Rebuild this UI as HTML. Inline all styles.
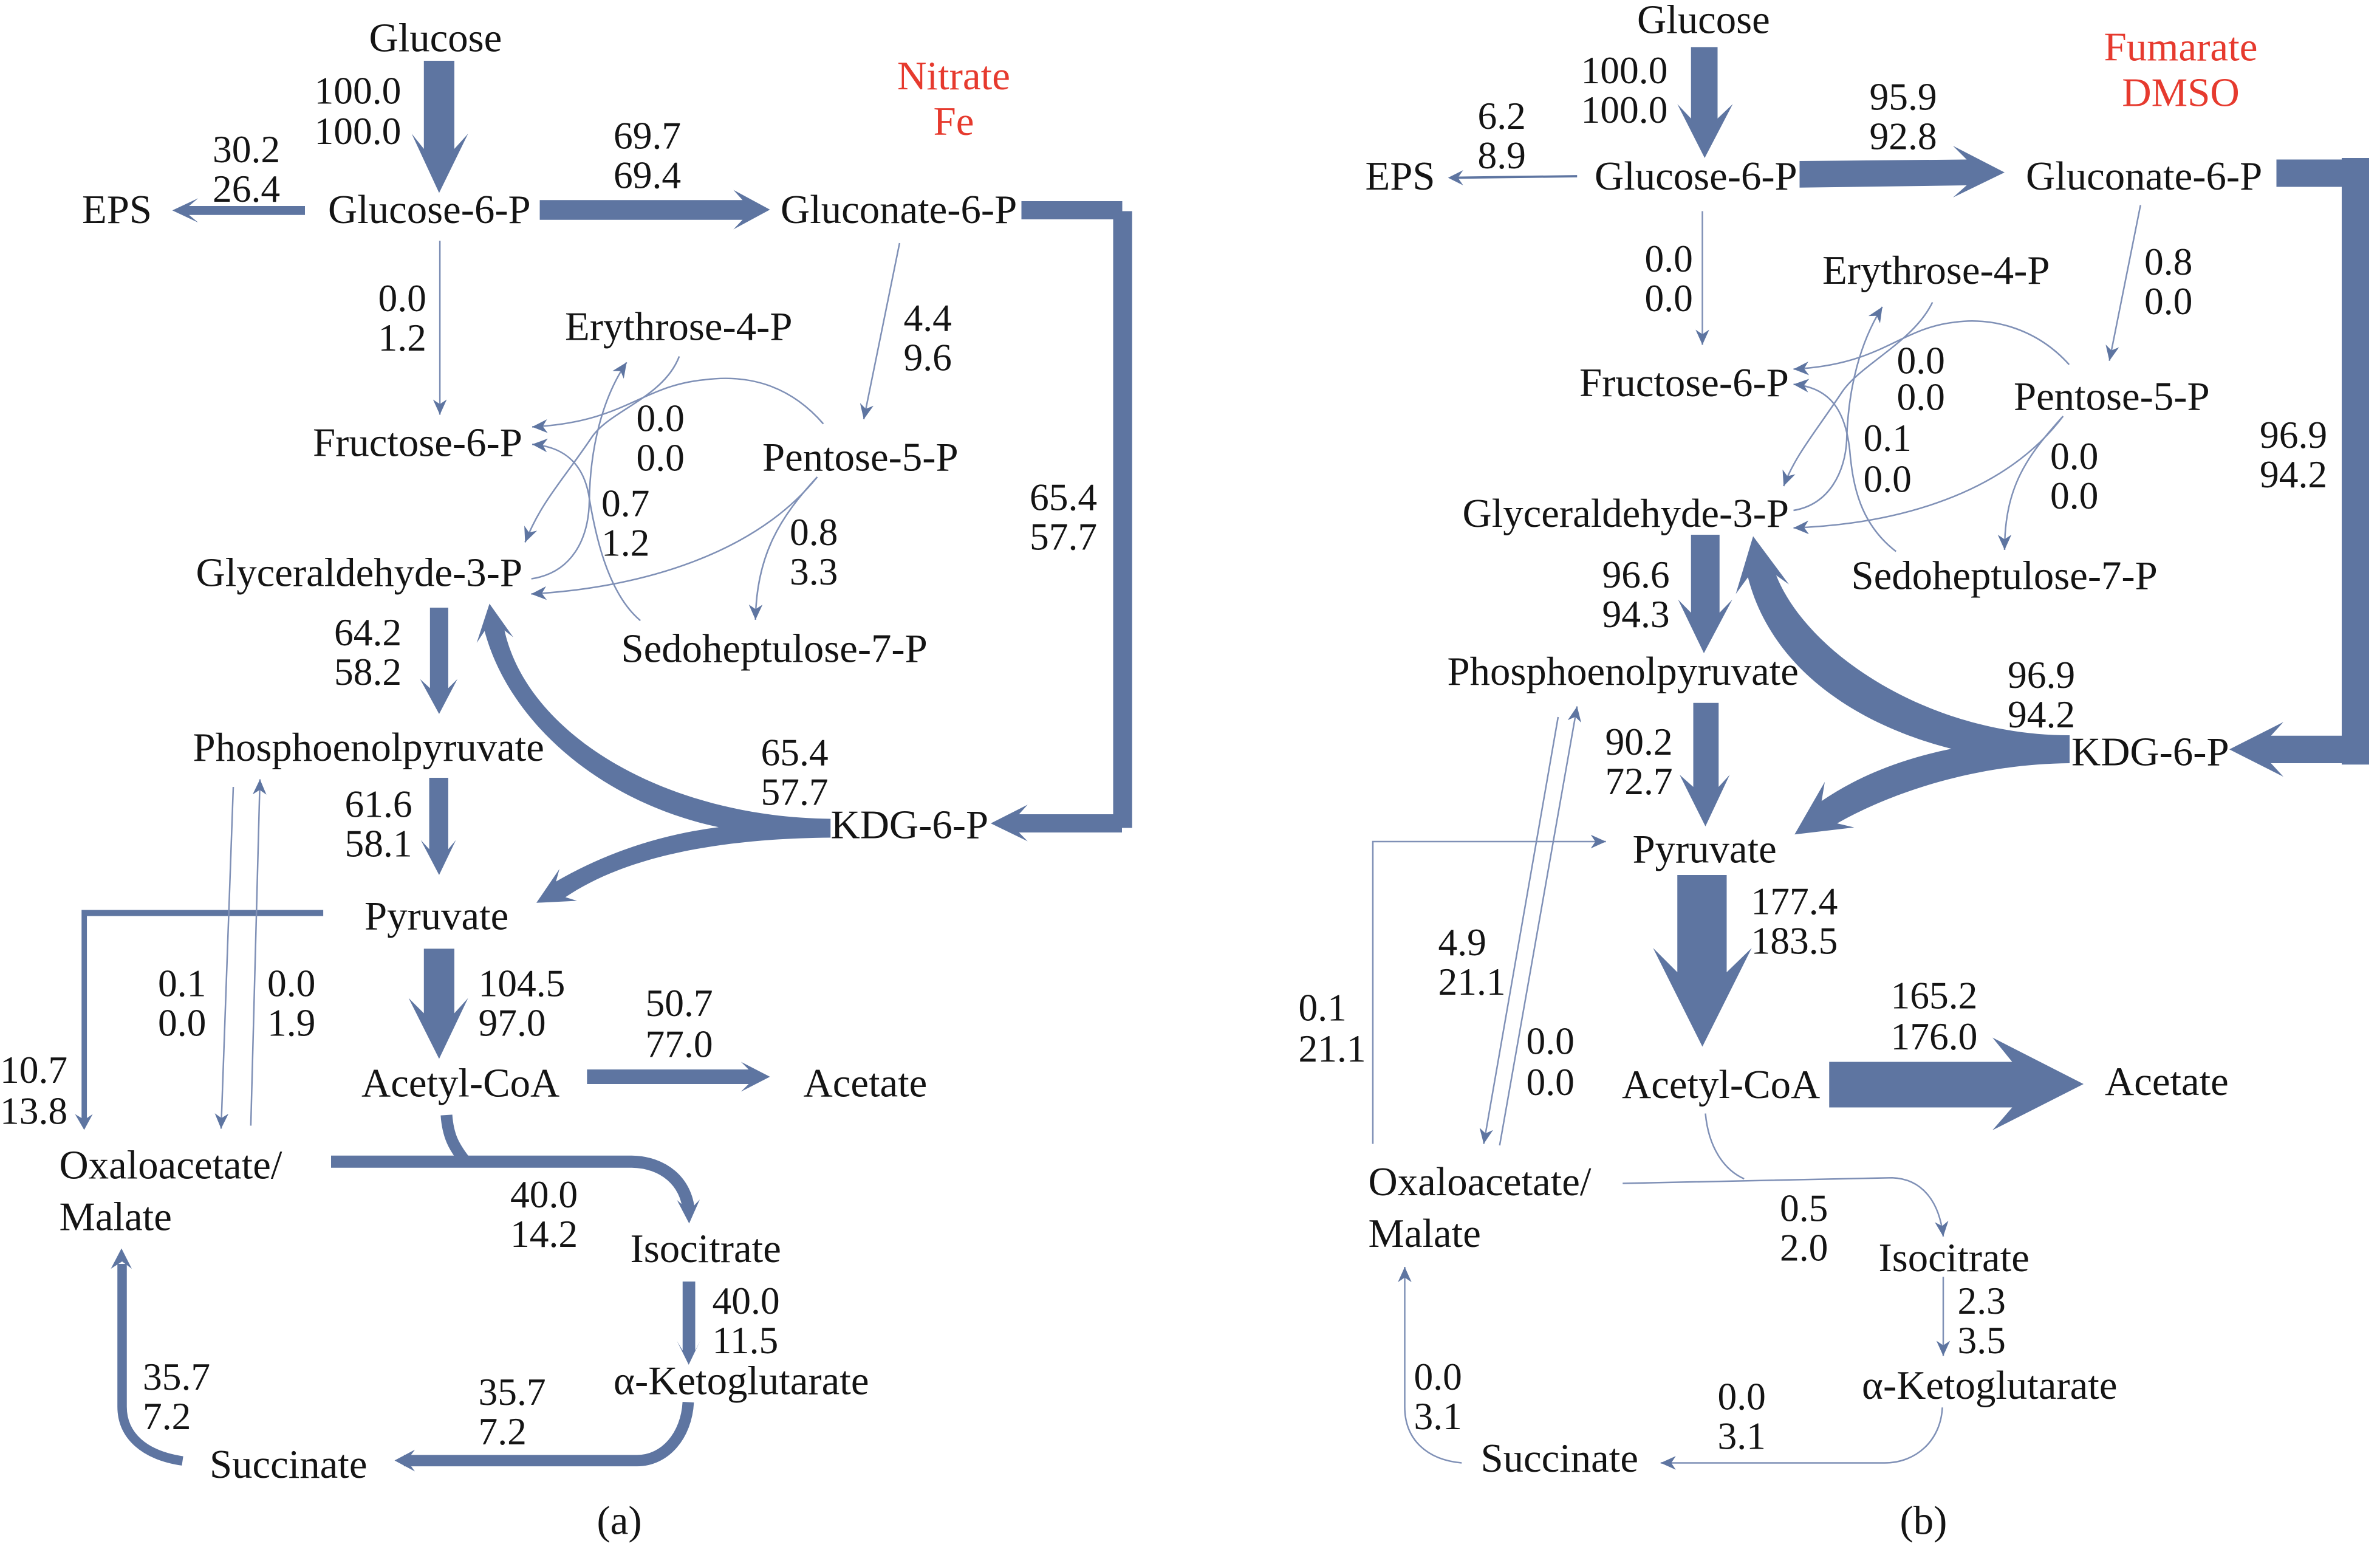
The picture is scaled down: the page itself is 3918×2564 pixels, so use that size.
<!DOCTYPE html>
<html><head><meta charset="utf-8"><title>Metabolic flux maps</title>
<style>
html,body{margin:0;padding:0;background:#fff}
svg{display:block}
text{font-family:"Liberation Serif",serif;font-size:25.4px;fill:#141414}
.w{font-size:26.7px}
.r{fill:#e63a2e;font-size:26.8px}
.m{text-anchor:middle}
.f{fill:#5e75a1;stroke:none}
.s{fill:none;stroke:#5e75a1}
.t{fill:none;stroke:#7f90b6;stroke-width:1;marker-end:url(#h)}
.n{fill:none;stroke:#7f90b6;stroke-width:1}
</style></head><body>
<svg xmlns="http://www.w3.org/2000/svg" width="3918" height="2564" viewBox="0 0 1567.2 1025.6">
<defs><marker id="h" markerUnits="userSpaceOnUse" markerWidth="12" markerHeight="12" refX="10" refY="5" orient="auto"><path d="M0,0.5L10,5L0,9.5L3,5Z" fill="#5e75a1"/></marker></defs>

<!-- panel a arrows -->
<g transform="scale(1.004,1)">
<polygon class="f" points="278,40 298,40 298,98 307,88 288,127 270,88 278,98"/>
<polygon class="f" points="200,135.6 124,135.6 130,130.5 113,138.5 130,146.5 124,141.5 200,141.5"/>
<polygon class="f" points="354,131.7 487,131.7 481,125 505,138 481,151 487,144.7 354,144.7"/>
<polygon class="f" points="282,400 294,400 294,453 300,447 288,470 275.5,447 282,453"/>
<polygon class="f" points="281.5,512 294,512 294,559 299,553 288,576 276,553 281.5,559"/>
<polygon class="f" points="278,624.5 298,624.5 298,667 307,657 288,697 268,657 278,667"/>
<polygon class="f" points="385,704 491,704 486,699 505,708.8 486,718.6 491,713.6 385,713.6"/>
<polygon class="f" points="53.5,599 212,599 212,603 57,603 57,736 60.8,733.4 55.2,743.8 49.2,733.4 53.5,736"/>
<line class="t" x1="288.5" y1="158.5" x2="288.5" y2="273"/>
<line class="t" x1="590" y1="160" x2="566.5" y2="276"/>
<path class="t" d="M445.5,234.6C435,262 400,270 388,288C370,315 355,330 344.4,357"/>
<path class="t" d="M348.5,381C375,377 386,355 386.5,330C387,295 395,262 411,238.5"/>
<path class="t" d="M540,279C515,250 485,247 462,250C420,254 410,278 349,281"/>
<path class="t" d="M420,408.5C398,390 390,350 386,325C382,305 370,294 349,292.5"/>
<path class="t" d="M536,314C495,365 420,387 348.4,391"/>
<path class="t" d="M536,314C512,340 496,365 495.5,408"/>
<line class="t" x1="153" y1="518" x2="145" y2="743"/>
<line class="t" x1="164.5" y1="741" x2="170.5" y2="513"/>
</g>
<polygon class="f" points="672.6,132.4 739,132.4 739,139 745.5,139 745.5,545 738.8,545 738.8,548 671,548 676.7,553.8 652.4,542 676.7,529.7 671,536 733,536 733,144.4 672.6,144.4"/>
<path class="f" d="M546.9,539C440,538 348,485 332.2,415L338,419.5L322.3,397.4L313.9,423.2L319.1,415.4C335,475 395,528 473.2,544.5Q415,552 366.1,580.3L368.4,572L353.2,594.3L380,593L372.3,590.6C410,565 470,552 546.9,551.4Z"/>
<path class="s" stroke-width="7.7" d="M294,734C295,748 299,755 306,764"/>
<path class="s" stroke-width="8" d="M218,764.7H416C437,765 452,778 453.5,797"/>
<polygon class="f" points="453.8,805.4 460.8,789.6 453.8,797 445.8,790"/>
<polygon class="f" points="449.5,843.6 457.8,843.6 457.8,889 461,882.8 453.5,898.4 445.8,882.8 449.5,889"/>
<path class="s" stroke-width="7.5" d="M453.2,923C452,945 438,961.5 419.5,961.5H266"/>
<polygon class="f" points="259.8,961.4 273.2,954.3 268,961.4 273.2,968.6"/>
<path class="s" stroke-width="6.2" d="M120.2,961.7C95,958 80.4,945 80.4,926V832"/>
<polygon class="f" points="80,821.8 86.8,835.2 80.4,830.4 73,835.2"/>

<!-- panel b arrows -->
<polygon class="f" points="1113.5,31 1131,31 1131,78 1141,68.5 1122.5,104 1104.5,68.5 1113.5,78"/>
<line x1="1038.5" y1="116" x2="958" y2="117" stroke="#5e75a1" stroke-width="1.5"/>
<polygon class="f" points="953.5,117 963.5,112 960,117 963.5,122"/>
<polygon class="f" points="1185,106 1295,105 1286,96 1320,113.5 1286,130 1295,122 1185,123.5"/>
<polygon class="f" points="1499,105 1542,105 1542,104 1560,104 1560,503.3 1542,503.3 1542,502.4 1495.4,502.4 1503.6,511.3 1468,493.3 1503.6,475.3 1495.4,484.3 1542,484.3 1542,123 1499,123"/>
<polygon class="f" points="1113.5,352 1132.3,352 1132.3,403.3 1140.7,394.7 1122,430 1105,394.7 1113.5,403.3"/>
<polygon class="f" points="1115,462.7 1131.7,462.7 1131.7,518 1139,510 1123,544 1106,510 1115,518"/>
<polygon class="f" points="1104.5,576 1137,576 1137,640 1153.5,624 1121,689 1088.5,624 1104.5,640"/>
<polygon class="f" points="1204.5,699 1325,699 1312,683 1372,713.6 1312,744 1325,729 1204.5,729"/>
<path class="f" d="M1362.8,484C1270,484 1190,430 1169.6,378.7L1178,384.7L1154.4,353L1143,391L1151,380C1165,435 1215,475 1285,492.9Q1235,503 1199.5,527.3L1201.6,514.7L1181.7,549.3L1221,544.7L1209.7,542C1245,522 1300,503 1362.8,502.4Z"/>
<line class="t" x1="1121" y1="139" x2="1121" y2="227"/>
<line class="t" x1="1409.5" y1="135" x2="1389" y2="237.5"/>
<path class="t" d="M1272.5,199C1260,225 1225,240 1213,258C1195,285 1182,300 1174.5,320"/>
<path class="t" d="M1181,336C1205,332 1215,310 1216,290C1217,255 1225,225 1239.5,202"/>
<path class="t" d="M1362.5,240C1340,215 1310,209 1288,212C1250,216 1240,240 1181,243"/>
<path class="t" d="M1248.5,363C1225,345 1220,320 1218,296C1215,270 1205,255 1181,253"/>
<path class="t" d="M1358.5,274C1320,325 1250,345 1181,347.5"/>
<path class="t" d="M1358.5,274C1335,300 1320,320 1320,362"/>
<path class="t" d="M904,753V554H1057.5"/>
<line class="t" x1="1026" y1="472" x2="977" y2="753"/>
<line class="t" x1="987.5" y1="754" x2="1038.5" y2="465"/>
<path class="n" d="M1123,733C1125,755 1135,770 1148.5,776"/>
<path class="t" d="M1068.5,779L1246,775.3C1265,776 1277,790 1279.6,814"/>
<line class="t" x1="1279.6" y1="840.5" x2="1279.6" y2="892.6"/>
<path class="t" d="M1279,926.5C1278,948 1262,963 1241,963H1093.5"/>
<path class="t" d="M962.5,963C940,961 925,948 925,926V834"/>

<g transform="translate(0,0.7)">
<!-- panel a text -->
<text class="w" x="243" y="33">Glucose</text>
<text x="207" y="67.5">100.0</text><text x="207" y="94">100.0</text>
<text x="140" y="106">30.2</text><text x="140" y="132">26.4</text>
<text class="w" x="54" y="146">EPS</text>
<text class="w" x="216" y="146">Glucose-6-P</text>
<text x="404" y="97">69.7</text><text x="404" y="123">69.4</text>
<text class="w" x="514" y="146">Gluconate-6-P</text>
<text class="r m" x="628" y="58">Nitrate</text><text class="r m" x="628" y="88">Fe</text>
<text x="249" y="204">0.0</text><text x="249" y="230">1.2</text>
<text x="595" y="217">4.4</text><text x="595" y="243">9.6</text>
<text class="w" x="372" y="223">Erythrose-4-P</text>
<text class="w" x="206" y="299.5">Fructose-6-P</text>
<text class="w" x="502" y="309">Pentose-5-P</text>
<text x="419" y="283">0.0</text><text x="419" y="309">0.0</text>
<text x="396" y="339">0.7</text><text x="396" y="365">1.2</text>
<text x="520" y="358">0.8</text><text x="520" y="384">3.3</text>
<text x="678" y="335">65.4</text><text x="678" y="361">57.7</text>
<text class="w" x="129" y="385">Glyceraldehyde-3-P</text>
<text x="220" y="424">64.2</text><text x="220" y="450">58.2</text>
<text class="w" x="409" y="435">Sedoheptulose-7-P</text>
<text class="w" x="127" y="500">Phosphoenolpyruvate</text>
<text x="501" y="503">65.4</text><text x="501" y="529">57.7</text>
<text x="227" y="537">61.6</text><text x="227" y="563">58.1</text>
<text class="w" x="547" y="551">KDG-6-P</text>
<text class="w" x="240" y="611">Pyruvate</text>
<text x="104" y="655">0.1</text><text x="104" y="681">0.0</text>
<text x="176" y="655">0.0</text><text x="176" y="681">1.9</text>
<text x="315" y="655">104.5</text><text x="315" y="681">97.0</text>
<text x="425" y="668">50.7</text><text x="425" y="695">77.0</text>
<text x="0" y="712">10.7</text><text x="0" y="739">13.8</text>
<text class="w" x="238" y="721">Acetyl-CoA</text>
<text class="w" x="529" y="721">Acetate</text>
<text class="w" x="39" y="775">Oxaloacetate/</text><text class="w" x="39" y="809">Malate</text>
<text x="336" y="794">40.0</text><text x="336" y="820">14.2</text>
<text class="w" x="415" y="830">Isocitrate</text>
<text x="469" y="864">40.0</text><text x="469" y="890">11.5</text>
<text class="w" x="404" y="917">α-Ketoglutarate</text>
<text x="94" y="914">35.7</text><text x="94" y="940">7.2</text>
<text x="315" y="924">35.7</text><text x="315" y="950">7.2</text>
<text class="w" x="138" y="972">Succinate</text>
<text class="w" x="393" y="1009">(a)</text>

<!-- panel b text -->
<text class="w" x="1078" y="21">Glucose</text>
<text x="1041" y="54">100.0</text><text x="1041" y="80">100.0</text>
<text x="973" y="84">6.2</text><text x="973" y="110">8.9</text>
<text class="w" x="899" y="124">EPS</text>
<text class="w" x="1050" y="124">Glucose-6-P</text>
<text x="1231" y="71.5">95.9</text><text x="1231" y="97.5">92.8</text>
<text class="w" x="1334" y="124">Gluconate-6-P</text>
<text class="r m" x="1436" y="39">Fumarate</text><text class="r m" x="1436" y="69">DMSO</text>
<text x="1083" y="178">0.0</text><text x="1083" y="204">0.0</text>
<text class="w" x="1200" y="186">Erythrose-4-P</text>
<text x="1412" y="180">0.8</text><text x="1412" y="206">0.0</text>
<text class="w" x="1040" y="260">Fructose-6-P</text>
<text x="1249" y="245">0.0</text><text x="1249" y="269">0.0</text>
<text class="w" x="1326" y="269">Pentose-5-P</text>
<text x="1227" y="296">0.1</text><text x="1227" y="323">0.0</text>
<text x="1350" y="308">0.0</text><text x="1350" y="334">0.0</text>
<text x="1488" y="294">96.9</text><text x="1488" y="320">94.2</text>
<text class="w" x="963" y="346">Glyceraldehyde-3-P</text>
<text x="1055" y="386">96.6</text><text x="1055" y="412">94.3</text>
<text class="w" x="1219" y="387">Sedoheptulose-7-P</text>
<text class="w" x="953" y="450">Phosphoenolpyruvate</text>
<text x="1322" y="452">96.9</text><text x="1322" y="478">94.2</text>
<text x="1057" y="496">90.2</text><text x="1057" y="522">72.7</text>
<text class="w" x="1364" y="503">KDG-6-P</text>
<text class="w" x="1075" y="567">Pyruvate</text>
<text x="1153" y="601">177.4</text><text x="1153" y="627">183.5</text>
<text x="947" y="628">4.9</text><text x="947" y="654">21.1</text>
<text x="855" y="671">0.1</text><text x="855" y="698">21.1</text>
<text x="1005" y="693">0.0</text><text x="1005" y="720">0.0</text>
<text x="1245" y="663">165.2</text><text x="1245" y="690">176.0</text>
<text class="w" x="1068" y="722">Acetyl-CoA</text>
<text class="w" x="1386" y="720">Acetate</text>
<text class="w" x="901" y="786">Oxaloacetate/</text><text class="w" x="901" y="820">Malate</text>
<text x="1172" y="803">0.5</text><text x="1172" y="829">2.0</text>
<text class="w" x="1237" y="836">Isocitrate</text>
<text x="1289" y="864">2.3</text><text x="1289" y="890">3.5</text>
<text class="w" x="1226" y="920">α-Ketoglutarate</text>
<text x="931" y="914">0.0</text><text x="931" y="940">3.1</text>
<text x="1131" y="927">0.0</text><text x="1131" y="953">3.1</text>
<text class="w" x="975" y="968">Succinate</text>
<text class="w" x="1251" y="1009">(b)</text>
</g>
</svg>
</body></html>
